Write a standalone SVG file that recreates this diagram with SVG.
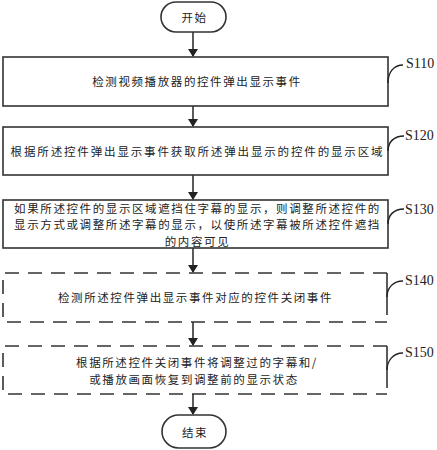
<svg xmlns="http://www.w3.org/2000/svg" width="437" height="450" viewBox="0 0 437 450">
<style>
.box{fill:#fff;stroke:#333;stroke-width:1.6}
.dash{fill:none;stroke:#333;stroke-width:1.6;stroke-dasharray:14 9}
.edge{fill:none;stroke:#333;stroke-width:1.6}
.t{font-family:"Noto Sans CJK SC",sans-serif;font-size:11.5px;letter-spacing:1.6px;fill:#222;text-anchor:middle;dominant-baseline:central}
.lbl{font-family:"Liberation Serif",serif;font-size:14px;fill:#222}
.cv{fill:none;stroke:#222;stroke-width:1.4}
</style>
<defs>
<marker id="ah" markerWidth="8" markerHeight="10" refX="7" refY="5" orient="auto" markerUnits="userSpaceOnUse">
<path d="M0,0 L8,5 L0,10 Z" fill="#222"/>
</marker>
</defs>
<g id="connectors">
<line class="edge" x1="193" y1="32" x2="193" y2="56" marker-end="url(#ah)"/>
<line class="edge" x1="193" y1="106" x2="193" y2="126" marker-end="url(#ah)"/>
<line class="edge" x1="193" y1="175" x2="193" y2="199" marker-end="url(#ah)"/>
<line class="edge" x1="193" y1="248" x2="193" y2="272" marker-end="url(#ah)"/>
<line class="edge" x1="193" y1="322" x2="193" y2="345" marker-end="url(#ah)"/>
<line class="edge" x1="193" y1="394" x2="193" y2="414" marker-end="url(#ah)"/>
</g>
<g id="start">
<rect class="box" x="161" y="2" width="65" height="30" rx="15"/>
<text class="t" x="194.5" y="17">开始</text>
</g>
<g id="s110">
<rect class="box" x="3" y="57" width="385" height="49"/>
<text class="t" x="197" y="81">检测视频播放器的控件弹出显示事件</text>
<path class="cv" d="M388,83 C388,72 394,65 403,65"/>
<text class="lbl" x="406" y="68">S110</text>
</g>
<g id="s120">
<rect class="box" x="3" y="127" width="385" height="48"/>
<text class="t" x="197.5" y="151" style="letter-spacing:1.85px">根据所述控件弹出显示事件获取所述弹出显示的控件的显示区域</text>
<path class="cv" d="M388,151 C388,142 394,136 404,136"/>
<text class="lbl" x="405" y="140">S120</text>
</g>
<g id="s130">
<rect class="box" x="3" y="200" width="385" height="48"/>
<text class="t" x="197.5" y="207.5">如果所述控件的显示区域遮挡住字幕的显示，则调整所述控件的</text>
<text class="t" x="197.5" y="224">显示方式或调整所述字幕的显示，以使所述字幕被所述控件遮挡</text>
<text class="t" x="197.5" y="240.5">的内容可见</text>
<path class="cv" d="M388,224 C388,215 394,209 404,209"/>
<text class="lbl" x="405" y="214">S130</text>
</g>
<g id="s140">
<path class="dash" d="M387,273 H3 V322 H387"/>
<line class="edge" x1="387" y1="273" x2="387" y2="315"/>
<text class="t" x="195.5" y="297">检测所述控件弹出显示事件对应的控件关闭事件</text>
<path class="cv" d="M387,297 C387,288 393,281 403,281"/>
<text class="lbl" x="405" y="285">S140</text>
</g>
<g id="s150">
<path class="dash" d="M387,346 H3 V394 H387"/>
<line class="edge" x1="387" y1="346" x2="387" y2="388"/>
<text class="t" x="197" y="361.5">根据所述控件关闭事件将调整过的字幕和/</text>
<text class="t" x="194" y="378.5">或播放画面恢复到调整前的显示状态</text>
<path class="cv" d="M387,370 C387,361 393,353 403,353"/>
<text class="lbl" x="405" y="357">S150</text>
</g>
<g id="end">
<rect class="box" x="162" y="415" width="64" height="33" rx="16.5"/>
<text class="t" x="195" y="431.5">结束</text>
</g>
</svg>
